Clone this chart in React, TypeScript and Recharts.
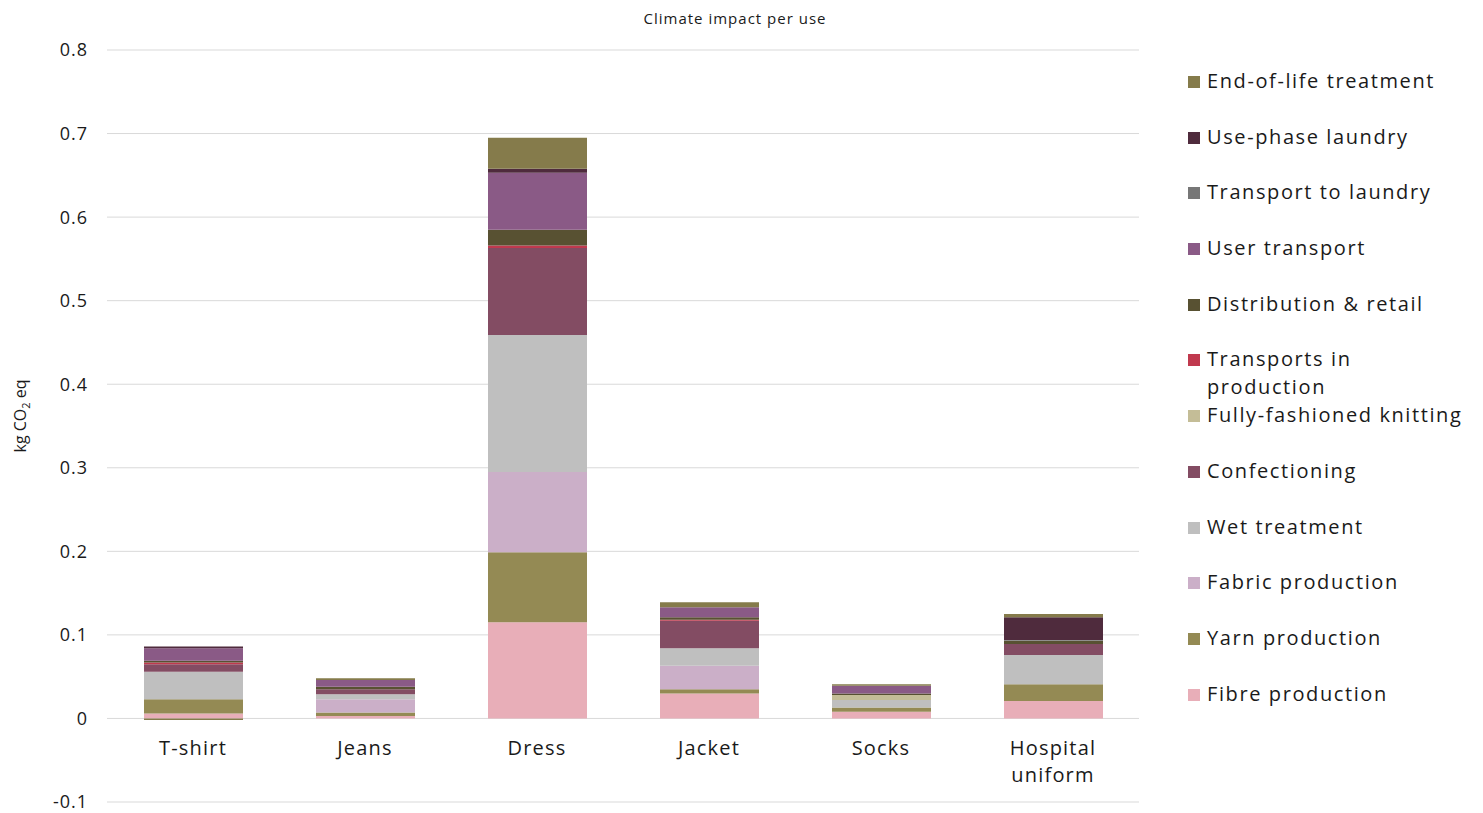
import { BarChart, Bar, XAxis, YAxis, CartesianGrid } from "recharts";

const categories = ["T-shirt", "Jeans", "Dress", "Jacket", "Socks", "Hospital uniform"];

// kg CO2 eq per use
const fibreProduction = [0.006, 0.003, 0.115, 0.03, 0.008, 0.021];
const yarnProduction = [0.017, 0.004, 0.084, 0.005, 0.005, 0.02];
const fabricProduction = [0, 0.016, 0.096, 0.028, 0, 0];
const wetTreatment = [0.033, 0.006, 0.164, 0.021, 0.009, 0.035];
const confectioning = [0.009, 0.006, 0.104, 0.033, 0, 0.013];
const fullyFashionedKnitting = [0, 0, 0, 0, 0.006, 0];
const transportsInProduction = [0.002, 0, 0.003, 0.001, 0, 0];
const distributionRetail = [0.002, 0.003, 0.019, 0.003, 0.002, 0.004];
const userTransport = [0.015, 0.008, 0.068, 0.012, 0.009, 0];
const transportToLaundry = [0, 0, 0, 0, 0, 0.001];
const usePhaseLaundry = [0.002, 0, 0.005, 0, 0, 0.027];
const endOfLife = [-0.002, 0.002, 0.037, 0.006, 0.002, 0.004];

const yTicks = [-0.1, 0, 0.1, 0.2, 0.3, 0.4, 0.5, 0.6, 0.7, 0.8];

// bottom to top stacking order
const series = [
  { key: "fibre", name: "Fibre production", values: fibreProduction, color: "#E8AEB8" },
  { key: "yarn", name: "Yarn production", values: yarnProduction, color: "#948A54" },
  { key: "fabric", name: "Fabric production", values: fabricProduction, color: "#CBAFC8" },
  { key: "wet", name: "Wet treatment", values: wetTreatment, color: "#BFBFBF" },
  { key: "conf", name: "Confectioning", values: confectioning, color: "#834C63" },
  { key: "knit", name: "Fully-fashioned knitting", values: fullyFashionedKnitting, color: "#C4BD97" },
  { key: "tip", name: "Transports in\nproduction", values: transportsInProduction, color: "#C0394E" },
  { key: "dist", name: "Distribution & retail", values: distributionRetail, color: "#585132" },
  { key: "user", name: "User transport", values: userTransport, color: "#8A5A86" },
  { key: "ttl", name: "Transport to laundry", values: transportToLaundry, color: "#777777" },
  { key: "laundry", name: "Use-phase laundry", values: usePhaseLaundry, color: "#4F2B3D" },
  { key: "eol", name: "End-of-life treatment", values: endOfLife, color: "#857B4B" },
];

const data = categories.map((c, i) => {
  const row: Record<string, string | number> = { category: c };
  series.forEach((s) => {
    row[s.key] = s.values[i];
  });
  return row;
});

const FONT = "'Open Sans', sans-serif";
const INK = "#1a1a1a";

function CategoryTick(props: any) {
  const { x, y, payload } = props;
  const words = payload.value === "Hospital uniform" ? ["Hospital", "uniform"] : [payload.value];
  return (
    <text
      x={x}
      y={y - 47}
      textAnchor="middle"
      fontSize={20}
      fill={INK}
      fontFamily={FONT}
      letterSpacing={1.2}
    >
      {words.map((w: string, i: number) => (
        <tspan key={i} x={x} dy={i === 0 ? 0 : 27}>
          {w}
        </tspan>
      ))}
    </text>
  );
}

function LegendBox() {
  const items = [...series].reverse();
  return (
    <div
      style={{
        position: "absolute",
        left: 1188,
        top: 66,
        width: 295,
        fontFamily: FONT,
        fontSize: 20,
        letterSpacing: 1.6,
        color: INK,
      }}
    >
      {items.map((s) => (
        <div key={s.key} style={{ height: 55.7, display: "flex", alignItems: "flex-start" }}>
          <div
            style={{
              width: 12,
              height: 12,
              background: s.color,
              marginTop: 10,
              marginRight: 7,
              flexShrink: 0,
            }}
          />
          <div style={{ whiteSpace: "pre", lineHeight: "28px", marginTop: 1 }}>{s.name}</div>
        </div>
      ))}
    </div>
  );
}

export default function App() {
  return (
    <div style={{ position: "absolute", left: 0, top: 0, width: 1483, height: 813, background: "#fff" }}>
      <div
        style={{
          position: "absolute",
          top: 8,
          left: 0,
          width: 1470,
          textAlign: "center",
          fontFamily: FONT,
          fontSize: 15,
          color: INK,
          letterSpacing: 1,
        }}
      >
        Climate impact per use
      </div>
      <BarChart
        width={1483}
        height={813}
        data={data}
        stackOffset="sign"
        barSize={99}
        margin={{ top: 50, right: 344, left: 0, bottom: 10 }}
      >
        <CartesianGrid vertical={false} stroke="#D9D9D9" strokeWidth={1} />
        <XAxis
          dataKey="category"
          height={1}
          axisLine={false}
          tickLine={false}
          tickSize={0}
          tickMargin={0}
          interval={0}
          tick={(p: any) => <CategoryTick {...p} />}
        />
        <YAxis
          type="number"
          domain={[-0.1, 0.8]}
          ticks={yTicks}
          width={107}
          axisLine={false}
          tickLine={false}
          tickSize={0}
          tickMargin={19}
          tickFormatter={(v: number) => (v === 0 ? "0" : String(Number(v.toFixed(1))))}
          tick={{ fontSize: 18, fill: INK, fontFamily: FONT, letterSpacing: 1 }}
          label={(p: any) => {
            const vb = p.viewBox;
            const cx = 26;
            const cy = vb.y + vb.height / 2 - 10;
            return (
              <text
                x={cx}
                y={cy}
                transform={`rotate(-90, ${cx}, ${cy})`}
                textAnchor="middle"
                fontSize={16}
                fill={INK}
                fontFamily={FONT}
              >
                kg CO
                <tspan fontSize={11} dy={4}>
                  2
                </tspan>
                <tspan dy={-4}> eq</tspan>
              </text>
            );
          }}
        />
        {series.map((s) => (
          <Bar
            key={s.key}
            dataKey={s.key}
            name={s.name}
            stackId="a"
            fill={s.color}
            isAnimationActive={false}
          />
        ))}
      </BarChart>
      <LegendBox />
    </div>
  );
}
